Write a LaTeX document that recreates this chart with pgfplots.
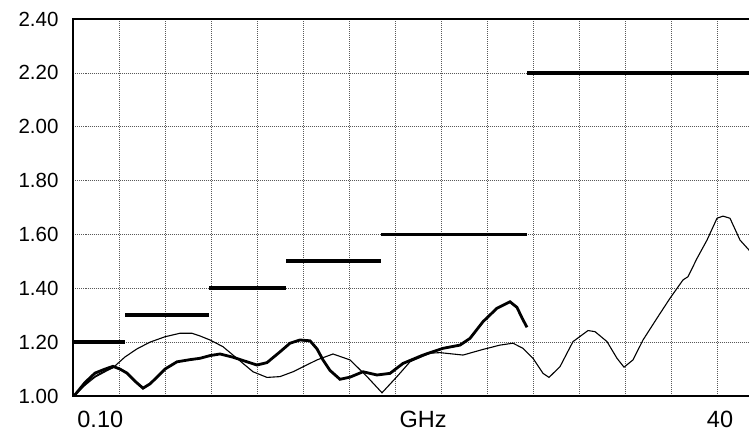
\documentclass[border=0pt]{standalone}
\usepackage{pgfplots}
\pgfplotsset{compat=1.18}
\usepackage{fontspec}
\setmainfont{Liberation Sans}
\begin{document}
\begin{tikzpicture}
\useasboundingbox (-73.5pt,-34pt) rectangle (675.5pt,396pt);
\begin{axis}[
  at={(0,0)}, anchor=south west,
  scale only axis, width=678.5pt, height=377pt,
  xmin=73.5, xmax=752, ymin=1, ymax=2.4,
  axis line style={line width=2pt},
  xtick={100.3,423,720}, xticklabels={0.10,GHz,40},
  minor xtick={119.5,165.5,...,720},
  ytick={1,1.2,...,2.41},
  major tick length=0pt, minor tick length=0pt,
  xmajorgrids=false, xminorgrids=true, ymajorgrids=true,
  grid style={black!65, line width=0.6pt, dash pattern=on 1pt off 1pt},
  minor grid style={black!65, line width=0.6pt, dash pattern=on 1pt off 1pt},
  yticklabel style={font=\fontsize{20.5}{21}\selectfont, anchor=east, xshift=-11.5pt,
    /pgf/number format/fixed, /pgf/number format/fixed zerofill, /pgf/number format/precision=2,
    /pgf/number format/assume math mode=true},
  xticklabel style={font=\fontsize{23.5}{24}\selectfont, inner sep=0pt, anchor=north, yshift=-15pt},
]
% limit steps
\addplot[black, line width=3.8pt] coordinates {(74,1.2)(125,1.2)};
\addplot[black, line width=3.8pt] coordinates {(125,1.3)(209,1.3)};
\addplot[black, line width=3.8pt] coordinates {(209,1.4)(286,1.4)};
\addplot[black, line width=3.8pt] coordinates {(286,1.5)(381,1.5)};
\addplot[black, line width=3.8pt] coordinates {(381,1.6)(527,1.6)};
\addplot[black, line width=3.8pt] coordinates {(527,2.2)(760,2.2)};
% thin B
\addplot[black, line width=1.1pt] coordinates {(74,1.0)(82,1.03)(90,1.06)(98,1.08)(106,1.095)(113,1.105)};
% thin A
\addplot[black, line width=1.1pt] coordinates {
(74,1.00)(85,1.04)(95,1.07)(105,1.09)(113,1.105)(125,1.145)(137,1.175)(150,1.20)(165,1.22)(180,1.233)(192,1.233)(200,1.223)(210,1.208)(223,1.183)(233,1.152)(243,1.121)(253,1.09)(267,1.069)(280,1.072)(293,1.09)(300,1.103)(317,1.134)(333,1.156)(350,1.134)(367,1.072)(382,1.012)(397,1.072)(410,1.127)(430,1.159)(440,1.161)(463,1.152)(483,1.173)(500,1.189)(513,1.196)(523,1.177)(533,1.14)(543,1.084)(549,1.069)(560,1.109)(573,1.202)(588,1.243)(595,1.239)(607,1.202)(617,1.14)(624,1.107)(633,1.134)(643,1.208)(657,1.289)(670,1.363)(683,1.431)(688,1.443)(697,1.511)(707,1.579)(717,1.66)(723,1.668)(730,1.66)(740,1.579)(749,1.542)(755,1.52)};
% thick
\addplot[black, line width=2.8pt] coordinates {
(74,1.00)(85,1.05)(95,1.085)(105,1.10)(113,1.11)(120,1.10)(127,1.085)(135,1.055)(143,1.029)(150,1.045)(157,1.07)(165,1.10)(177,1.127)(190,1.135)(200,1.14)(210,1.15)(220,1.156)(233,1.144)(247,1.127)(257,1.115)(267,1.124)(280,1.164)(290,1.196)(300,1.208)(310,1.205)(317,1.175)(323,1.134)(330,1.095)(340,1.062)(350,1.07)(363,1.09)(377,1.078)(390,1.084)(403,1.121)(423,1.152)(443,1.177)(460,1.189)(470,1.214)(483,1.276)(497,1.326)(510,1.35)(517,1.329)(522,1.29)(527,1.255)};
\end{axis}
\end{tikzpicture}
\end{document}
